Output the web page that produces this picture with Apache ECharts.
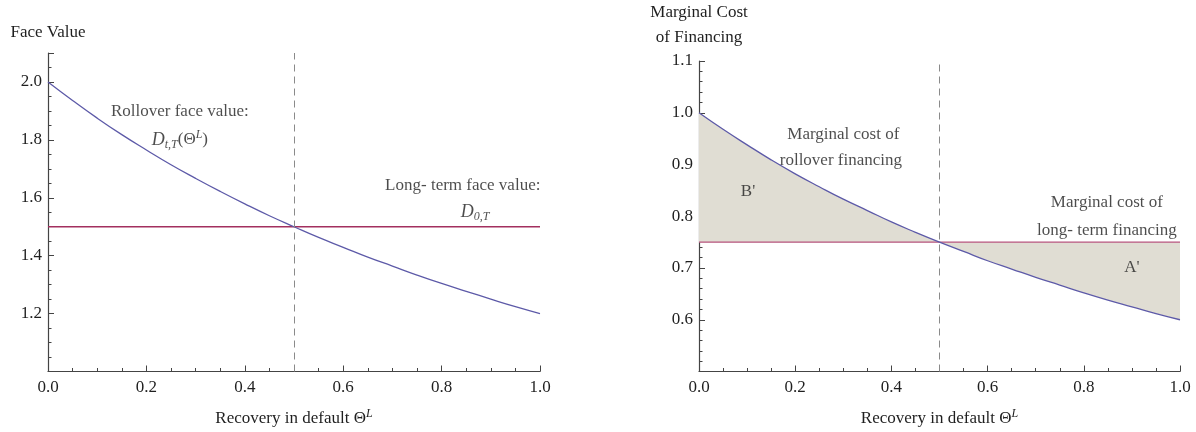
<!DOCTYPE html>
<html><head><meta charset="utf-8">
<script src="https://cdn.jsdelivr.net/npm/echarts@6/dist/echarts.min.js"></script>
<style>html,body{margin:0;padding:0;background:#fff}#c{width:1196px;height:432px}</style>
</head><body><div id="c"></div>
<script>
// ---- data ----
const theta = [0,0.05,0.1,0.15,0.2,0.25,0.3,0.35,0.4,0.45,0.5,0.55,0.6,0.65,0.7,0.75,0.8,0.85,0.9,0.95,1.0];
const rolloverFace = [2.0,1.936,1.875,1.818,1.765,1.714,1.667,1.622,1.579,1.538,1.5,1.463,1.429,1.395,1.364,1.333,1.304,1.277,1.25,1.224,1.2];
const longTermFace = 1.5;
const rolloverCost = [1.0,0.968,0.938,0.909,0.882,0.857,0.833,0.811,0.789,0.769,0.75,0.732,0.714,0.698,0.682,0.667,0.652,0.638,0.625,0.612,0.6];
const longTermCost = 0.75;
const cutoff = 0.5;
const leftYRange = [1.0, 2.1];
const rightYRange = [0.5, 1.1];
const leftNotes = [
  {x:0.268, y:1.897, t:'Rollover face value:'},
  {x:0.268, y:1.800, t:'{i|D}{sub|t,T}{n|(Θ}{sup|L}{n|)}'},
  {x:0.843, y:1.643, t:'Long- term face value:'},
  {x:0.868, y:1.550, t:'{i|D}{sub|0,T}'}
];
const rightNotes = [
  {x:0.30, y:0.957, t:'Marginal cost of'},
  {x:0.295, y:0.907, t:'rollover financing'},
  {x:0.102, y:0.847, t:"B'"},
  {x:0.848, y:0.826, t:'Marginal cost of'},
  {x:0.848, y:0.772, t:'long- term financing'},
  {x:0.90, y:0.700, t:"A'"}
];

const FONT = '"Liberation Serif","DejaVu Serif",serif';
const TXT = '#1f1f1f';
const AX = '#444444';
const CURVE = '#5d5aa8';
const FLAT_L = '#a3305f';
const FLAT_R = '#b8557f';
const FILL = '#e0ddd3';
const FS = 17;

const richMath = {
  n:{fontFamily:FONT,fontSize:FS,color:TXT},
  i:{fontFamily:FONT,fontSize:FS+1,fontStyle:'italic',color:TXT},
  sub:{fontFamily:FONT,fontSize:12,fontStyle:'italic',color:TXT,padding:[9,0,0,0]},
  sup:{fontFamily:FONT,fontSize:12,fontStyle:'italic',color:TXT,padding:[0,0,10,0]},
  a:{fontFamily:FONT,fontSize:FS,color:TXT},
  s:{fontFamily:FONT,fontSize:12,fontStyle:'italic',color:TXT,padding:[0,0,10,0]}
};

function xAxis(gi){
  return {
    type:'value', gridIndex:gi, min:0, max:1, interval:0.2,
    axisLine:{onZero:false, lineStyle:{color:AX,width:1.2}},
    axisTick:{inside:true,length:6,lineStyle:{color:AX}},
    minorTick:{show:true,splitNumber:4,length:3.5,lineStyle:{color:AX}},
    splitLine:{show:false},
    axisLabel:{margin:8,fontFamily:FONT,fontSize:FS,color:TXT,formatter:v=>v.toFixed(1)},
    name:'{a|Recovery in default Θ}{s|L}', nameLocation:'middle', nameGap:36,
    nameTextStyle:{rich:richMath}
  };
}
function yAxis(gi, range, interval, minorSplit, name, gap, showMax){
  return {
    type:'value', gridIndex:gi, min:range[0], max:range[1], interval:interval,
    axisLine:{onZero:false, lineStyle:{color:AX,width:1.2}},
    axisTick:{inside:true,length:6,lineStyle:{color:AX}},
    minorTick:{show:true,splitNumber:minorSplit,length:3.5,lineStyle:{color:AX}},
    splitLine:{show:false},
    axisLabel:{margin:6,fontFamily:FONT,fontSize:FS,color:TXT,showMinLabel:false,showMaxLabel:showMax,
      formatter:v=>v.toFixed(1)},
    name:name, nameLocation:'end', nameGap:gap,
    nameTextStyle:{fontFamily:FONT,fontSize:FS,color:TXT,lineHeight:25,align:'center'}
  };
}
function notes(gi, arr){
  return {
    type:'scatter', xAxisIndex:gi, yAxisIndex:gi, symbolSize:0, silent:true,
    data: arr.map(d=>({value:[d.x,d.y], label:{formatter:d.t}})),
    label:{show:true, position:'inside', fontFamily:FONT, fontSize:FS, color:TXT, rich:richMath},
    z:10
  };
}
const pair = (xs, ys)=>xs.map((x,i)=>[x, Array.isArray(ys)?ys[i]:ys]);
const vline = {silent:true, symbol:['none','none'], label:{show:false},
  lineStyle:{color:'#8a8a8a',type:[7,5],width:1}, data:[{xAxis:cutoff}]};

const fillSeries = {
  type:'custom', xAxisIndex:1, yAxisIndex:1, silent:true, z:1,
  data:[[0, longTermCost]],
  renderItem:function(params, api){
    const top = theta.map((x,i)=>api.coord([x, rolloverCost[i]]));
    const bottom = [api.coord([theta[theta.length-1], longTermCost]), api.coord([theta[0], longTermCost])];
    return {type:'polygon', shape:{points: top.concat(bottom)}, style:{fill:FILL, stroke:'none'}};
  }
};

const chart = echarts.init(document.getElementById('c'), null, {renderer:'canvas'});
chart.setOption({
  animation:false,
  grid:[
    {left:48, top:53, width:492, height:320},
    {left:699, top:61, width:481, height:311}
  ],
  xAxis:[xAxis(0), xAxis(1)],
  yAxis:[
    yAxis(0, leftYRange, 0.2, 4, 'Face Value', 8, false),
    yAxis(1, rightYRange, 0.1, 5, 'Marginal Cost\nof Financing', 11, true)
  ],
  series:[
    {type:'line', xAxisIndex:0, yAxisIndex:0, data:pair(theta, longTermFace), showSymbol:false,
      lineStyle:{color:FLAT_L,width:1.3}, markLine:vline, z:3},
    {type:'line', xAxisIndex:0, yAxisIndex:0, data:pair(theta, rolloverFace), showSymbol:false, smooth:true,
      lineStyle:{color:CURVE,width:1.3}, z:4},
    notes(0, leftNotes),
    fillSeries,
    {type:'line', xAxisIndex:1, yAxisIndex:1, data:pair(theta, longTermCost), showSymbol:false,
      lineStyle:{color:FLAT_R,width:1.3}, markLine:vline, z:3},
    {type:'line', xAxisIndex:1, yAxisIndex:1, data:pair(theta, rolloverCost), showSymbol:false, smooth:true,
      lineStyle:{color:CURVE,width:1.3}, z:4},
    notes(1, rightNotes)
  ]
});
</script></body></html>
